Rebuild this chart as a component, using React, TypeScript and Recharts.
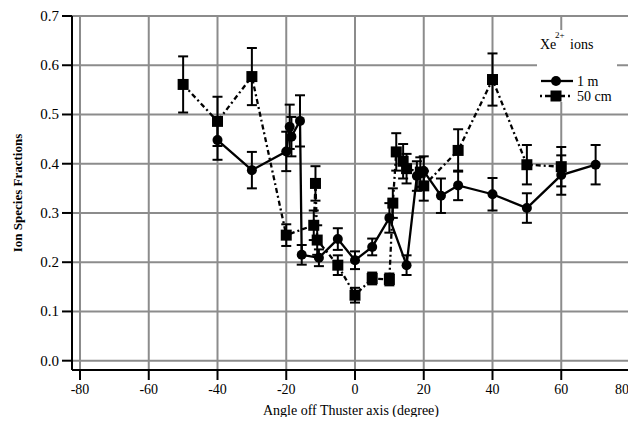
import React from 'react';
import { LineChart, Line, XAxis, YAxis, CartesianGrid, ErrorBar, Legend } from 'recharts';

const xTicks = [-80, -60, -40, -20, 0, 20, 40, 60, 80];
const yTicks = [0, 0.1, 0.2, 0.3, 0.4, 0.5, 0.6, 0.7];
const yTickLabels = ['0.0', '0.1', '0.2', '0.3', '0.4', '0.5', '0.6', '0.7'];

const angles1m = [-40, -30, -20, -19, -18.5, -16, -15.5, -10.5, -5, 0, 5, 10, 15, 18, 20, 25, 30, 40, 50, 60, 70];
const values1m = [0.448, 0.387, 0.425, 0.475, 0.455, 0.487, 0.215, 0.209, 0.247, 0.204, 0.231, 0.29, 0.194, 0.375, 0.385, 0.335, 0.356, 0.338, 0.31, 0.377, 0.398];
const errors1m = [0.04, 0.037, 0.04, 0.045, 0.04, 0.052, 0.02, 0.017, 0.022, 0.018, 0.017, 0.03, 0.02, 0.03, 0.03, 0.035, 0.03, 0.033, 0.03, 0.04, 0.04];

const angles50 = [-50, -40, -30, -20, -12, -11.5, -11, -5, 0, 5, 10, 11, 12, 14, 15, 19, 20, 30, 40, 50, 60];
const values50 = [0.561, 0.486, 0.577, 0.255, 0.275, 0.36, 0.245, 0.194, 0.133, 0.167, 0.165, 0.32, 0.424, 0.405, 0.39, 0.383, 0.355, 0.427, 0.571, 0.398, 0.394];
const errors50 = [0.057, 0.05, 0.058, 0.022, 0.03, 0.035, 0.03, 0.02, 0.015, 0.012, 0.012, 0.03, 0.038, 0.035, 0.03, 0.03, 0.03, 0.043, 0.053, 0.04, 0.04];

const seriesNames = ['1 m', '50 cm'];
const xTitle = 'Angle off Thuster axis (degree)';
const yTitle = 'Ion Species Fractions';

const data1m = angles1m.map((x, i) => ({ x, y: values1m[i], e: errors1m[i] }));
const data50 = angles50.map((x, i) => ({ x, y: values50[i], e: errors50[i] }));

const FONT = '"Liberation Serif", "Times New Roman", serif';
const DASH = '5 3 2 3';

const SquareDot = (props: any) => {
  const { cx, cy, index } = props;
  if (cx == null || cy == null) return null;
  return <rect key={`sq-${index}`} x={cx - 5.5} y={cy - 5.5} width={11} height={11} fill="#000" />;
};

const XTick = (props: any) => {
  const { x, y, payload, index } = props;
  const last = payload.value === xTicks[xTicks.length - 1];
  return (
    <text key={`xt-${index}`} x={last ? x - 1 : x} y={y + 12} textAnchor={last ? 'end' : 'middle'} fontFamily={FONT} fontSize={14} fill="#000">
      {String(payload.value)}
    </text>
  );
};

const YTick = (props: any) => {
  const { x, y, payload, index } = props;
  const label = yTickLabels[yTicks.indexOf(payload.value)] ?? String(payload.value);
  return (
    <text key={`yt-${index}`} x={x} y={y + 5} textAnchor="end" fontFamily={FONT} fontSize={15} fill="#000">
      {label}
    </text>
  );
};

const LegendBox = () => (
  <svg width={80} height={72} style={{ display: 'block', background: '#fff', overflow: 'visible' }}>
    <text x={3} y={19} fontFamily={FONT} fontSize={14} fill="#000">Xe</text>
    <text x={18} y={8} fontFamily={FONT} fontSize={9} fill="#000">2+</text>
    <text x={33} y={19} fontFamily={FONT} fontSize={14} fill="#000">ions</text>
    <line x1={4} y1={51} x2={36} y2={51} stroke="#000" strokeWidth={2.3} />
    <circle cx={19} cy={51} r={5} fill="#000" />
    <text x={40} y={56} fontFamily={FONT} fontSize={14} fill="#000">{seriesNames[0]}</text>
    <line x1={3} y1={66} x2={36} y2={66} stroke="#000" strokeWidth={2.3} strokeDasharray="2 3 6 3" />
    <rect x={13.5} y={60.5} width={11} height={11} fill="#000" />
    <text x={40} y={71} fontFamily={FONT} fontSize={14} fill="#000">{seriesNames[1]}</text>
  </svg>
);

export default function App() {
  return (
    <div style={{ width: 628, height: 409, fontFamily: FONT, overflow: 'visible' }}>
      <LineChart width={628} height={409} margin={{ top: 8, right: 6, left: 0, bottom: 2 }} style={{ fontFamily: FONT, overflow: 'visible' }}>
        <CartesianGrid stroke="#8c8c8c" strokeWidth={2} />
        <XAxis
          type="number"
          dataKey="x"
          domain={[-82.33, 80]}
          allowDataOverflow
          ticks={xTicks}
          interval={0}
          height={45}
          tickSize={10}
          tickMargin={2}
          axisLine={{ stroke: '#000', strokeWidth: 2 }}
          tickLine={{ stroke: '#000', strokeWidth: 2 }}
          tick={<XTick />}
          label={{ value: xTitle, position: 'insideBottom', offset: 0, style: { fontFamily: FONT, fontSize: 14, fill: '#000' } }}
        />
        <YAxis
          type="number"
          domain={[-0.0189, 0.7]}
          allowDataOverflow
          ticks={yTicks}
          interval={0}
          width={64}
          tickSize={10}
          tickMargin={3}
          axisLine={{ stroke: '#000', strokeWidth: 2 }}
          tickLine={{ stroke: '#000', strokeWidth: 2 }}
          tick={<YTick />}
          label={{ value: yTitle, angle: -90, position: 'insideLeft', offset: 9, style: { textAnchor: 'middle', fontFamily: FONT, fontSize: 13, fontWeight: 'bold', fill: '#000' } }}
        />
        <Legend
          layout="vertical"
          align="center"
          verticalAlign="middle"
          content={() => <LegendBox />}
          wrapperStyle={{ left: 529, top: 22, width: 80, height: 72, background: '#fff', overflow: 'visible' }}
        />
        <Line
          data={data50}
          dataKey="y"
          name={seriesNames[1]}
          stroke="#000"
          strokeWidth={2.3}
          strokeDasharray={DASH}
          dot={SquareDot}
          activeDot={false}
          isAnimationActive={false}
        >
          <ErrorBar dataKey="e" direction="y" width={5} stroke="#000" strokeWidth={2} />
        </Line>
        <Line
          data={data1m}
          dataKey="y"
          name={seriesNames[0]}
          stroke="#000"
          strokeWidth={2.3}
          dot={{ r: 5, fill: '#000', stroke: '#000', strokeWidth: 0 }}
          activeDot={false}
          isAnimationActive={false}
        >
          <ErrorBar dataKey="e" direction="y" width={5} stroke="#000" strokeWidth={2} />
        </Line>
      </LineChart>
    </div>
  );
}
